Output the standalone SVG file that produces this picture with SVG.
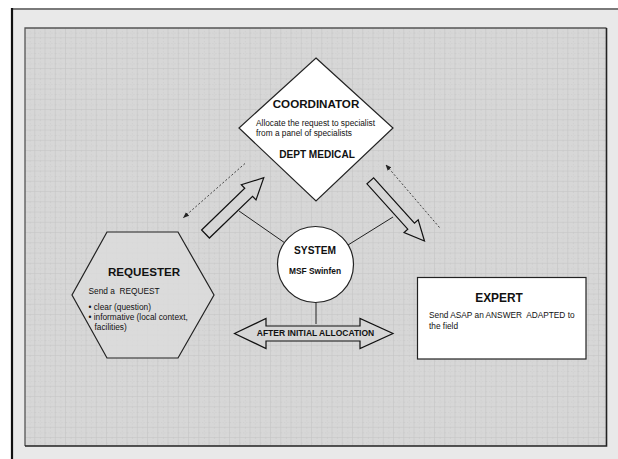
<svg xmlns="http://www.w3.org/2000/svg" width="618" height="459" viewBox="0 0 618 459">
<defs>
<pattern id="grid" x="25" y="28" width="10.25" height="10.25" patternUnits="userSpaceOnUse">
<rect width="10.25" height="10.25" fill="#d7d7d7"/>
<path d="M5.1 0V10.25M0 5.1H10.25" stroke="#cdcdcd" stroke-width="1" stroke-dasharray="1 2"/>
<path d="M10.25 0V10.25M0 10.25H10.25" stroke="#c4c4c4" stroke-width="1"/>
</pattern>
<marker id="ah" viewBox="0 0 10 10" refX="9" refY="5" markerWidth="6" markerHeight="6" orient="auto" markerUnits="userSpaceOnUse">
<path d="M0 1L10 5L0 9Z" fill="#222"/>
</marker>
<style>
text{font-family:"Liberation Sans",Arial,sans-serif;fill:#111;white-space:pre}
.b{font-weight:bold}
.t{font-size:8.3px}
.node{fill:#fff;stroke:#222;stroke-width:1.2}
.blk{fill:#d6d6d6;stroke:#111;stroke-width:1.2;stroke-linejoin:miter}
.con{stroke:#222;stroke-width:1;fill:none}
.dash{stroke:#444;stroke-width:1;stroke-dasharray:2 2;fill:none;marker-end:url(#ah)}
</style>
</defs>
<rect width="618" height="459" fill="#fff"/>
<rect x="12" y="9" width="610" height="455" fill="#e9e9e9"/>
<line x1="11" y1="9" x2="618" y2="9" stroke="#7a7a7a" stroke-width="2"/>
<line x1="12" y1="8" x2="12" y2="459" stroke="#111" stroke-width="2.2"/>
<rect x="25" y="28" width="581.5" height="418" fill="url(#grid)"/>
<path d="M25 446V28H606.5" stroke="#555" stroke-width="1.3" fill="none"/>
<path d="M606.5 28V446H25" stroke="#222" stroke-width="1.6" fill="none"/>

<g id="connectors">
<line class="con" x1="239" y1="211" x2="285" y2="243"/>
<line class="con" x1="348" y1="245" x2="393" y2="217"/>
<line class="con" x1="316" y1="302" x2="316" y2="324"/>
<line class="dash" x1="245" y1="163.5" x2="183.5" y2="217.5"/>
<line class="dash" x1="439.5" y1="227.5" x2="386" y2="165"/>
<polygon class="blk" transform="translate(205.5 234) rotate(-44)" points="0,-5.6 60,-5.6 60,-10.6 81,0 60,10.6 60,5.6 0,5.6"/>
<polygon class="blk" transform="translate(370.3 180.8) rotate(48)" points="0,-4.5 61,-4.5 61,-9.5 81,0 61,9.5 61,4.5 0,4.5"/>
</g>

<g id="coordinator">
<polygon class="node" points="316,58 393,128 316,201 239,128"/>
<text x="316" y="108" text-anchor="middle" class="b" font-size="11.6">COORDINATOR</text>
<text x="256" y="126" class="t">Allocate the request to specialist</text>
<text x="256" y="136" class="t">from a panel of specialists</text>
<text x="317" y="158" text-anchor="middle" class="b" font-size="10.1">DEPT MEDICAL</text>
</g>

<g id="requester">
<polygon points="107,232 178,232 214,295 178,358 107,358 72,295" fill="#dcdcdc" fill-opacity="0.8" stroke="#222" stroke-width="1.2"/>
<text x="144" y="276" text-anchor="middle" class="b" font-size="11.6">REQUESTER</text>
<text x="88.5" y="293.5" class="t">Send a  REQUEST</text>
<text x="88.5" y="309.5" class="t">• clear (question)</text>
<text x="88.5" y="319.5" class="t">• informative (local context,</text>
<text x="94.5" y="330" class="t">facilities)</text>
</g>

<g id="system">
<circle class="node" cx="315.5" cy="264.5" r="38"/>
<text x="315" y="254" text-anchor="middle" class="b" font-size="10.2">SYSTEM</text>
<text x="315" y="274.3" text-anchor="middle" class="b" font-size="8.4">MSF Swinfen</text>
</g>

<g id="expert">
<rect class="node" x="417.5" y="277.5" width="168.5" height="81.5"/>
<text x="499" y="301.7" text-anchor="middle" class="b" font-size="11.9">EXPERT</text>
<text x="429" y="318.3" class="t">Send ASAP an ANSWER  ADAPTED to</text>
<text x="429" y="329.3" class="t">the field</text>
</g>

<g id="after-initial-allocation">
<polygon class="blk" points="234.5,333.5 266,318.5 266,326 360,326 360,318.5 393,333.5 360,348.5 360,341 266,341 266,348.5"/>
<text x="315.5" y="336.3" text-anchor="middle" class="b" font-size="8.5">AFTER INITIAL ALLOCATION</text>
</g>
</svg>
